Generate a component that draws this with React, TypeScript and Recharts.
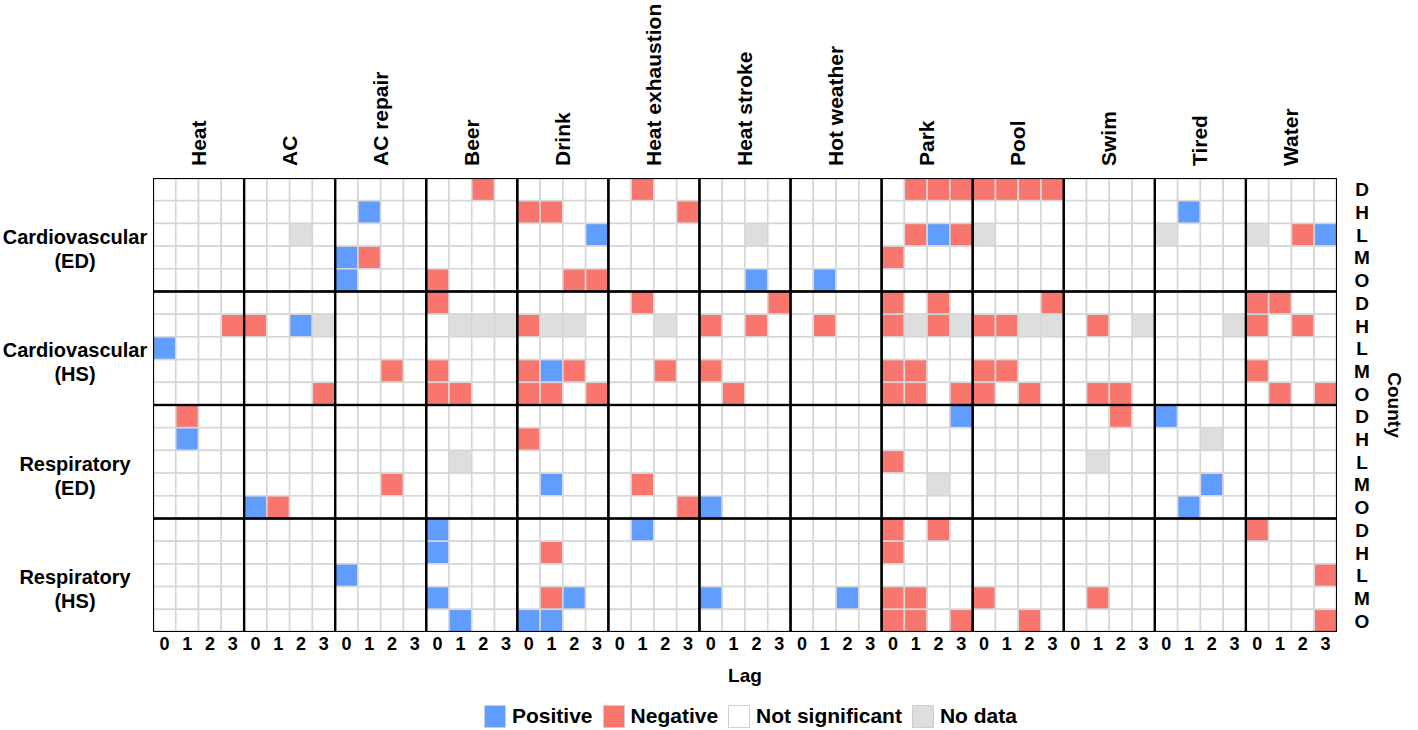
import { ScatterChart, Scatter, XAxis, YAxis } from "recharts";

// keyword columns, each split into lags 0-3
const keywords = ["Heat", "AC", "AC repair", "Beer", "Drink", "Heat exhaustion", "Heat stroke", "Hot weather", "Park", "Pool", "Swim", "Tired", "Water"];
const lags = ["0", "1", "2", "3"];
const counties = ["D", "H", "L", "M", "O"];
const outcomes = [
  ["Cardiovascular", "(ED)"],
  ["Cardiovascular", "(HS)"],
  ["Respiratory", "(ED)"],
  ["Respiratory", "(HS)"],
];

// one string per county, 13 keyword blocks of 4 lags
// P = positive, N = negative, . = not significant, X = no data
const cardioED = [
  ".... .... .... ..N. .... .N.. .... .... .NNN NNNN .... .... ....",
  ".... .... .P.. .... NN.. ...N .... .... .... .... .... .P.. ....",
  ".... ..X. .... .... ...P .... ..X. .... .NPN X... .... X... X.NP",
  ".... .... PN.. .... .... .... .... .... N... .... .... .... ....",
  ".... .... P... N... ..NN .... ..P. .P.. .... .... .... .... ....",
];
const cardioHS = [
  ".... .... .... N... .... .N.. ...N .... N.N. ...N .... .... NN..",
  "...N N.PX .... .XXX NXX. ..X. N.N. .N.. NXNX NNXX .N.X ...X N.N.",
  "P... .... .... .... .... .... .... .... .... .... .... .... ....",
  ".... .... ..N. N... NPN. ..N. N... .... NN.. NN.. .... .... N...",
  ".... ...N .... NN.. NN.N .... .N.. .... NN.N N.N. .NN. .... .N.N",
];
const respED = [
  ".N.. .... .... .... .... .... .... .... ...P .... ..N. P... ....",
  ".P.. .... .... .... N... .... .... .... .... .... .... ..X. ....",
  ".... .... .... .X.. .... .... .... .... N... .... .X.. .... ....",
  ".... .... ..N. .... .P.. .N.. .... .... ..X. .... .... ..P. ....",
  ".... PN.. .... .... .... ...N P... .... .... .... .... .P.. ....",
];
const respHS = [
  ".... .... .... P... .... .P.. .... .... N.N. .... .... .... N...",
  ".... .... .... P... .N.. .... .... .... N... .... .... .... ....",
  ".... .... P... .... .... .... .... .... .... .... .... .... ...N",
  ".... .... .... P... .NP. .... P... ..P. NN.. N... .N.. .... ....",
  ".... .... .... .P.. PP.. .... .... .... NN.N ..N. .... .... ...N",
];

const statusColors: Record<string, string> = {
  P: "#619CFF",
  N: "#F8766D",
  ".": "#FFFFFF",
  X: "#DEDEDE",
};
const legendItems = [
  { code: "P", label: "Positive" },
  { code: "N", label: "Negative" },
  { code: ".", label: "Not significant" },
  { code: "X", label: "No data" },
];

const W = 1418;
const H = 730;
const LEFT = 153;
const RIGHT = 81;
const TOP = 178;
const BOTTOM = 98;
const NCOL = keywords.length * lags.length;
const NROW = outcomes.length * counties.length;
const CELL_W = (W - LEFT - RIGHT) / NCOL;
const CELL_H = (H - TOP - BOTTOM) / NROW;

const cells = [cardioED, cardioHS, respED, respHS].flatMap((rows, g) =>
  rows.flatMap((row, c) =>
    row
      .replace(/ /g, "")
      .split("")
      .map((code, col) => ({ x: col + 0.5, y: g * counties.length + c + 0.5, status: code }))
  )
);

// one frame per keyword x outcome block (the black borders)
const blocks = outcomes.flatMap((_, g) =>
  keywords.map((_, k) => ({ bx: k * lags.length + lags.length / 2, by: g * counties.length + counties.length / 2 }))
);

const font = "'Liberation Sans', Arial, sans-serif";

const CellShape = (props: any) => {
  const { cx, cy, payload } = props;
  return (
    <rect
      x={cx - CELL_W / 2}
      y={cy - CELL_H / 2}
      width={CELL_W}
      height={CELL_H}
      fill={statusColors[payload.status]}
      stroke="#D6D6D6"
      strokeWidth={1.6}
    />
  );
};

const BlockShape = (props: any) => {
  const { cx, cy } = props;
  const w = CELL_W * lags.length;
  const h = CELL_H * counties.length;
  return <rect x={cx - w / 2} y={cy - h / 2} width={w} height={h} fill="none" stroke="#000" strokeWidth={2.2} />;
};

const KeywordTick = (props: any) => {
  const x = Number(props.x) + 7;
  const y = Number(props.y);
  const label = keywords[Math.round((props.payload.value - 2) / 4)];
  return (
    <text
      x={x}
      y={y}
      transform={`rotate(-90 ${x} ${y})`}
      textAnchor="start"
      fontFamily={font}
      fontWeight="bold"
      fontSize={21}
      fill="#000"
    >
      {label}
    </text>
  );
};

const LagTick = ({ x, y, payload }: any) => (
  <text x={x} y={y + 14} textAnchor="middle" fontFamily={font} fontWeight="bold" fontSize={18} fill="#000">
    {lags[Math.floor(payload.value) % 4]}
  </text>
);

const OutcomeTick = ({ x, y, payload }: any) => {
  const [a, b] = outcomes[Math.floor(payload.value / 5)];
  return (
    <g fontFamily={font} fontWeight="bold" fontSize={20} fill="#000">
      <text x={x - 78} y={y + 9} textAnchor="middle">{a}</text>
      <text x={x - 78} y={y + 33} textAnchor="middle">{b}</text>
    </g>
  );
};

const CountyTick = ({ x, y, payload }: any) => (
  <text x={x + 25} y={y + 7} textAnchor="middle" fontFamily={font} fontWeight="bold" fontSize={19} fill="#000">
    {counties[Math.floor(payload.value) % 5]}
  </text>
);

const LagTitle = (p: any) => {
  const vb = p.viewBox;
  return (
    <text x={vb.x + vb.width / 2} y={vb.y + 50} textAnchor="middle" fontFamily={font} fontWeight="bold" fontSize={19} fill="#000">
      Lag
    </text>
  );
};

const CountyTitle = (p: any) => {
  const vb = p.viewBox;
  const x = vb.x + 51;
  const y = vb.y + vb.height / 2;
  return (
    <text x={x} y={y} transform={`rotate(90 ${x} ${y})`} textAnchor="middle" fontFamily={font} fontWeight="bold" fontSize={19} fill="#000">
      County
    </text>
  );
};

const App = () => {
  return (
    <div style={{ position: "absolute", left: 0, top: 0, width: W, height: H, background: "#fff" }}>
      <ScatterChart width={W} height={H} margin={{ top: 0, right: 0, bottom: 0, left: 0 }}>
        <XAxis
          xAxisId="kw"
          dataKey="bx"
          orientation="top"
          type="number"
          domain={[0, NCOL]}
          allowDataOverflow
          ticks={keywords.map((_, i) => i * 4 + 2)}
          interval={0}
          height={TOP}
          axisLine={false}
          tickLine={false}
          tickSize={0}
          tickMargin={12}
          tick={KeywordTick}
        />
        <XAxis
          xAxisId="lag"
          dataKey="x"
          type="number"
          domain={[0, NCOL]}
          allowDataOverflow
          ticks={Array.from({ length: NCOL }, (_, i) => i + 0.5)}
          interval={0}
          height={BOTTOM}
          axisLine={false}
          tickLine={false}
          tickSize={0}
          tickMargin={4}
          tick={LagTick}
          label={LagTitle}
        />
        <YAxis
          yAxisId="outcome"
          dataKey="y"
          type="number"
          domain={[0, NROW]}
          reversed
          allowDataOverflow
          ticks={outcomes.map((_, i) => i * 5 + 2.5)}
          interval={0}
          width={LEFT}
          axisLine={false}
          tickLine={false}
          tickSize={0}
          tickMargin={0}
          tick={OutcomeTick}
        />
        <YAxis
          yAxisId="county"
          dataKey="by"
          orientation="right"
          type="number"
          domain={[0, NROW]}
          reversed
          allowDataOverflow
          ticks={Array.from({ length: NROW }, (_, i) => i + 0.5)}
          interval={0}
          width={RIGHT}
          axisLine={false}
          tickLine={false}
          tickSize={0}
          tickMargin={0}
          tick={CountyTick}
          label={CountyTitle}
        />
        <Scatter
          data={cells}
          xAxisId="lag"
          yAxisId="outcome"
          isAnimationActive={false}
          shape={CellShape}
        />
        <Scatter
          data={blocks}
          xAxisId="kw"
          yAxisId="county"
          isAnimationActive={false}
          shape={BlockShape}
        />
      </ScatterChart>
      <div
        style={{
          position: "absolute",
          left: 484,
          top: 704,
          display: "flex",
          alignItems: "center",
          fontFamily: font,
          fontWeight: "bold",
          fontSize: 21,
          color: "#000",
        }}
      >
        {legendItems.map((it) => (
          <div key={it.code} style={{ display: "flex", alignItems: "center", marginRight: 10 }}>
            <div
              style={{
                width: 22,
                height: 23,
                background: statusColors[it.code],
                border: "1px solid #CFCFCF",
                boxSizing: "border-box",
                marginRight: 6,
              }}
            />
            <span>{it.label}</span>
          </div>
        ))}
      </div>
    </div>
  );
};

export default App;
